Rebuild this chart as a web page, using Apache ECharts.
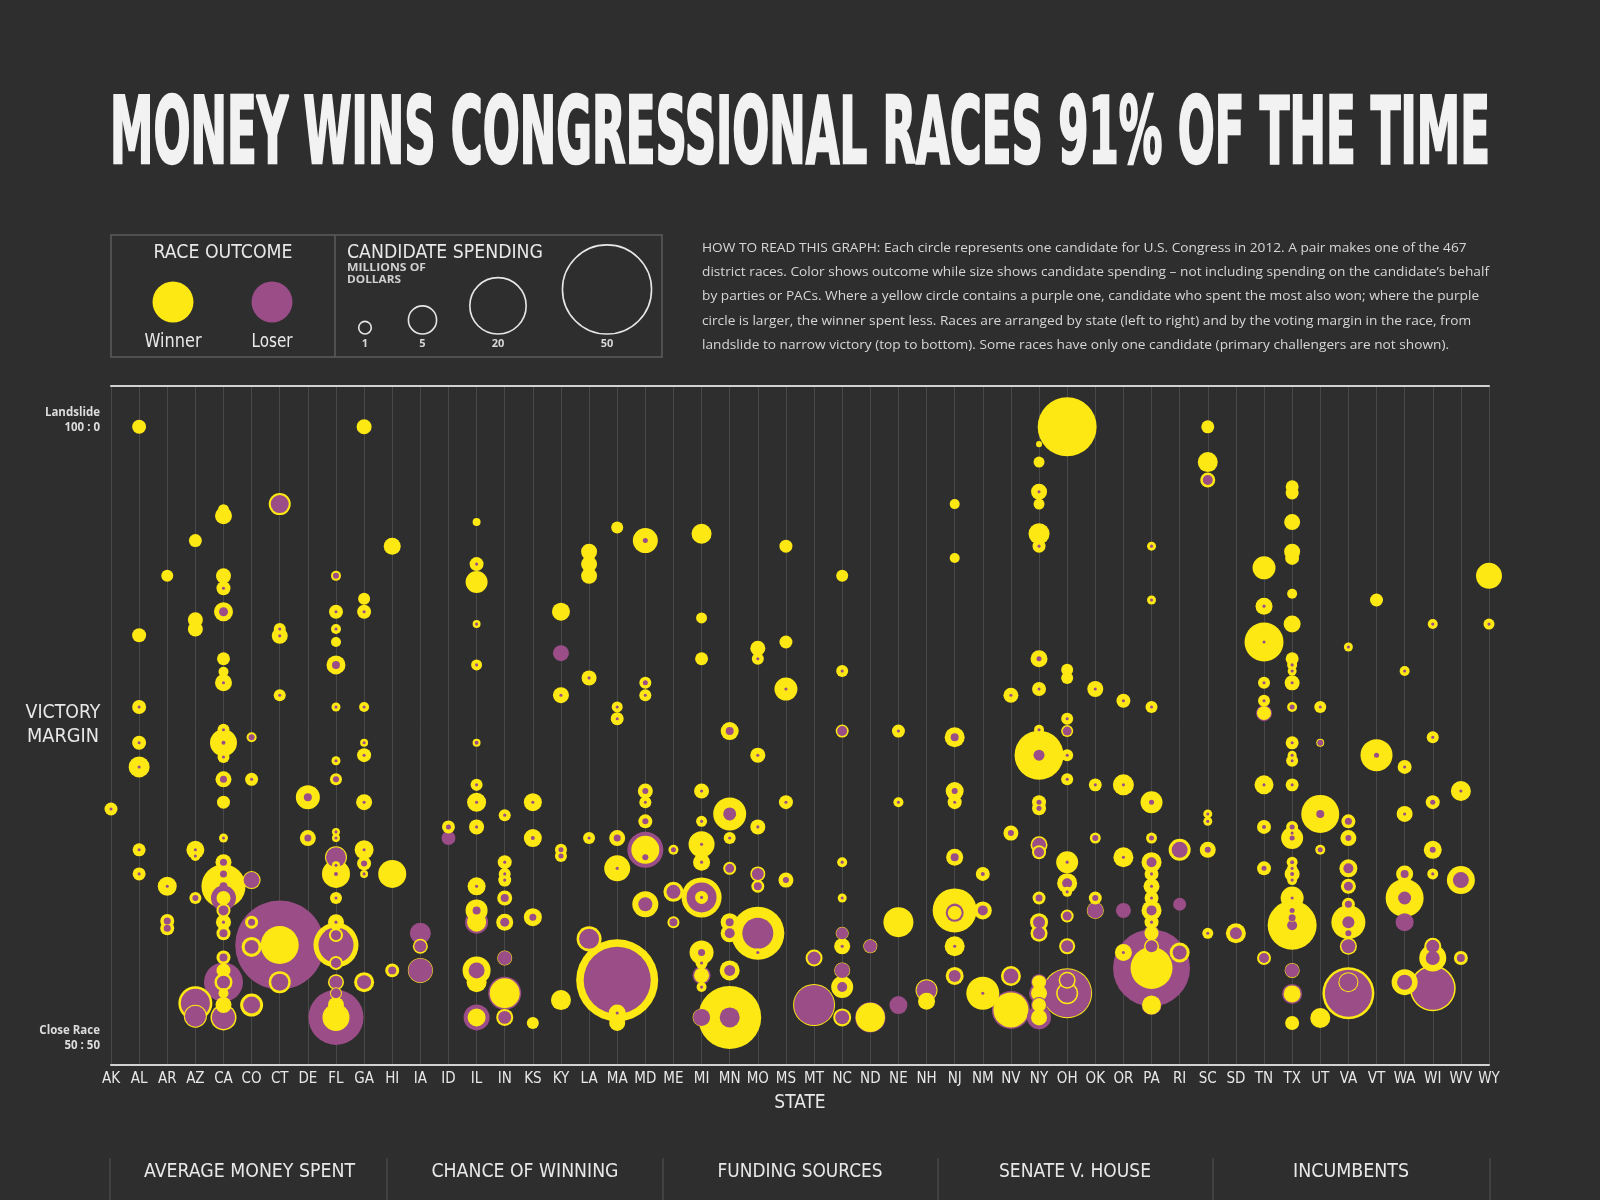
<!DOCTYPE html>
<html><head><meta charset="utf-8">
<script src="https://cdn.jsdelivr.net/npm/echarts@6/dist/echarts.min.js"></script>
<style>html,body{margin:0;padding:0;background:#2e2e2e;}#c{width:1600px;height:1200px;}</style>
</head><body><div id="c"></div>
<script>
// ---------------- DATA ----------------
const states = ['AK','AL','AR','AZ','CA','CO','CT','DE','FL','GA','HI','IA','ID','IL','IN','KS','KY','LA','MA','MD','ME','MI','MN','MO','MS','MT','NC','ND','NE','NH','NJ','NM','NV','NY','OH','OK','OR','PA','RI','SC','SD','TN','TX','UT','VA','VT','WA','WI','WV','WY'];
// each race: [victory margin (pts, 100 = landslide, 0 = 50:50), winner spending ($M), loser spending ($M)]
const racesAK = [[38.2,1.06,0.06]];
const racesAL = [[100,1.23,0],[66.3,1.23,0],[54.7,1.23,0.06],[48.9,1.23,0.06],[45.0,2.78,0.06],[31.6,1.06,0.06],[27.7,1.06,0.06]];
const racesAR = [[75.9,0.91,0],[25.7,2.27,0.06],[20.1,1.23,0.31],[18.9,1.23,0.31]];
const racesAZ = [[81.6,1.06,0],[68.8,1.42,0],[67.3,1.42,0],[31.6,2.04,0.06],[30.6,0.63,0.06],[23.8,0.91,0.23],[6.8,7.28,5.3],[4.7,3.33,2.78]];
const racesCA = [[86.6,0.76,0],[85.6,1.82,0],[75.9,1.42,0],[73.9,1.23,0.06],[70.1,2.27,0.51],[62.5,1.06,0],[60.4,0.63,0],[58.6,1.82,0.06],[51.0,0.91,0.06],[48.9,4.59,0.10],[46.6,0.91,0.06],[43.0,1.61,0.31],[39.3,1.06,0],[33.5,0.51,0.06],[29.6,1.61,0.31],[27.7,1.23,0.31],[25.7,12.2,0.40],[23.8,1.23,3.94],[21.8,1.23,0.63],[19.9,1.42,0.06],[18.1,1.23,0.40],[14.2,1.23,0.40],[12.1,1.23,0],[10.2,1.23,9.58],[10.2,2.04,1.06],[8.4,0.63,0],[6.5,1.61,0],[4.5,4.26,3.33]];
const racesCO = [[49.8,0.63,0.23],[43.0,1.06,0.06],[26.7,2.04,1.61],[19.9,1.06,0.31],[15.9,2.52,1.23],[6.5,3.33,1.82]];
const racesCT = [[87.5,3.05,2.04],[67.3,0.91,0.06],[66.2,1.61,0.06],[56.6,0.91,0.06],[16.2,9.10,49.9],[10.2,3.05,1.82]];
const racesDE = [[40.1,3.63,0.40],[33.5,1.61,0.31]];
const racesFL = [[75.9,0.63,0.23],[70.1,1.23,0.06],[67.3,0.63,0.06],[65.2,0.63,0],[61.5,2.27,0.40],[54.7,0.51,0.06],[46.0,0.51,0.06],[43.0,0.91,0.23],[34.5,0.40,0.06],[33.5,0.40,0.06],[30.4,3.05,2.52],[29.1,0.40,0.06],[27.7,4.94,0.10],[23.8,0.91,0.06],[19.9,1.61,0.06],[17.8,1.23,0.63],[16.2,12.8,7.72],[13.3,1.23,0.63],[10.2,1.61,1.06],[8.4,0.91,0.63],[6.5,1.61,0],[4.5,4.59,19.1]];
const racesGA = [[100,1.42,0],[72.2,0.91,0],[70.1,1.23,0.06],[54.7,0.63,0.06],[48.9,0.40,0.06],[46.9,1.23,0.06],[39.3,1.61,0.06],[31.6,2.27,0.06],[29.4,1.23,0.23],[27.7,0.40,0.06],[10.2,2.52,1.23]];
const racesHI = [[80.7,1.82,0],[27.7,4.94,0],[12.1,1.23,0.40]];
const racesIA = [[18.1,0,2.78],[16.0,1.42,0.91],[12.1,3.94,3.63]];
const racesID = [[35.3,1.06,0.16],[33.5,0,1.23]];
const racesIL = [[84.6,0.40,0],[77.8,1.23,0.06],[74.9,3.05,0],[68.1,0.40,0.06],[61.5,0.76,0.06],[48.9,0.40,0.10],[42.1,0.91,0.06],[39.3,2.27,0.06],[35.3,1.42,0.06],[25.7,2.04,0.06],[21.8,3.05,0.40],[19.9,2.27,3.33],[12.1,4.94,1.61],[10.2,2.52,0],[4.5,2.04,4.26]];
const racesIN = [[37.2,0.91,0.06],[29.6,1.23,0.06],[27.7,0.91,0.06],[26.7,1.06,0.06],[23.8,1.42,0.40],[19.9,1.82,0.51],[14.1,1.42,1.23],[8.4,5.67,6.86],[4.5,1.82,1.06]];
const racesKS = [[39.3,2.04,0.06],[33.5,2.04,0.10],[20.7,2.04,0.31],[3.6,0.91,0]];
const racesKY = [[70.1,2.04,0],[63.4,0,1.61],[56.6,1.61,0.06],[31.6,0.91,0.16],[30.6,0.91,0.16],[7.3,2.52,0]];
const racesLA = [[79.8,1.61,0],[77.8,1.61,0],[75.9,1.61,0],[59.4,1.42,0.06],[33.5,0.91,0.06],[17.2,3.94,2.52]];
const racesMA = [[83.7,0.91,0],[54.7,0.76,0.06],[52.8,1.06,0.06],[33.5,1.61,0.31],[28.6,4.26,0.06],[10.5,42.4,28.3],[5.2,1.82,0.06],[3.6,1.61,0]];
const racesMD = [[81.6,3.94,0.16],[58.6,0.91,0.16],[56.6,0.91,0.06],[41.1,1.42,0.23],[39.3,0.91,0.06],[36.2,1.23,0.23],[31.6,4.94,8.16],[30.4,0.63,0.23],[22.8,4.26,1.23]];
const racesME = [[31.6,0.63,0.16],[24.8,2.52,1.23],[19.9,0.91,0.40]];
const racesMI = [[82.7,2.52,0],[69.1,0.76,0],[62.5,1.06,0],[41.1,1.42,0.06],[36.2,0.76,0.06],[32.5,4.26,0.06],[29.6,1.82,0.06],[23.9,10.1,5.67],[23.9,1.06,0.06],[15.0,3.63,0.31],[13.3,0.91,0.06],[11.3,1.42,2.04],[9.4,0.63,0.06],[4.5,2.04,1.82]];
const racesMN = [[50.8,2.04,0.40],[37.4,6.86,1.06],[33.5,0.91,0.06],[28.6,1.06,0.51],[19.9,2.04,0.40],[18.1,2.04,0.63],[12.1,2.52,0.76],[4.5,25.0,2.52]];
const racesMO = [[64.2,1.42,0],[62.5,0.91,0.06],[46.9,1.42,0.06],[35.3,1.42,0.06],[27.7,1.42,0.91],[25.7,1.06,0.40],[18.1,17.7,6.05],[15.0,0.40,0.06]];
const racesMS = [[80.7,1.06,0],[65.2,1.06,0],[57.6,3.33,0.06],[39.3,1.23,0.06],[26.7,1.42,0.23]];
const racesMT = [[14.1,1.82,1.06],[6.5,11.1,10.1]];
const racesNC = [[75.9,0.91,0],[60.5,0.91,0.06],[50.8,1.06,0.63],[29.6,0.63,0.06],[23.8,0.51,0.06],[18.1,1.06,0.91],[16.0,1.61,0.06],[12.1,1.61,1.42],[9.4,3.05,0.63],[4.5,2.04,1.23]];
const racesND = [[16.0,1.23,1.06],[4.5,5.4,5.8]];
const racesNE = [[50.8,1.06,0.06],[39.3,0.63,0.06],[19.9,5.67,0],[6.5,0,2.04]];
const racesNH = [[8.9,3.05,2.52],[7.1,1.82,0]];
const racesNJ = [[87.5,0.63,0],[78.8,0.63,0],[49.8,2.52,0.40],[41.1,2.04,0.23],[39.3,1.23,0.06],[30.4,1.82,0.40],[21.8,12.2,1.23],[21.4,1.23,2.04],[16.0,2.52,0.06],[11.2,2.04,0.91]];
const racesNM = [[27.7,1.23,0.10],[21.8,2.04,0.63],[8.4,6.86,0.06]];
const racesNV = [[56.6,1.42,0.06],[34.3,1.42,0.23],[11.2,2.52,1.42],[5.7,7.72,9.10]];
const racesNY = [[97.2,0.23,0],[94.3,0.76,0],[89.5,1.61,0.06],[87.5,0.76,0],[82.7,2.78,0],[80.7,1.06,0.06],[62.5,1.82,0.16],[57.6,1.23,0.06],[51.0,0.63,0.06],[46.9,15.1,0.76],[39.3,1.23,0.16],[38.3,1.23,0.16],[32.4,1.82,1.23],[31.2,1.23,0.63],[23.8,1.06,0.31],[19.9,2.04,0.91],[18.1,1.82,0.91],[10.2,1.23,1.61],[8.4,1.61,2.52],[6.5,1.23,1.61],[4.5,1.61,3.63]];
const racesOH = [[100,21.9,0],[60.7,0.91,0],[59.4,0.91,0],[52.8,0.91,0.06],[50.8,0.91,0.51],[46.9,0.91,0.06],[43.0,0.91,0.06],[29.6,3.05,0.06],[26.2,2.52,0.63],[24.8,0.63,0.06],[20.9,1.06,0.51],[16.0,1.61,0.91],[8.4,15.7,14.5],[10.5,1.82,1.23],[8.4,3.05,2.27]];
const racesOK = [[57.6,1.61,0.06],[42.1,1.06,0.06],[33.5,0.76,0.23],[23.8,1.06,0.23],[21.8,1.82,1.61]];
const racesOR = [[55.7,1.23,0.06],[42.1,2.78,0.06],[30.4,2.52,0.06],[21.8,0,1.42],[15.0,1.82,0.06]];
const racesPA = [[80.7,0.51,0.06],[72.0,0.51,0.06],[54.7,0.91,0.06],[39.3,3.05,0.16],[33.5,0.76,0.16],[29.6,2.52,0.63],[27.7,1.23,0.06],[25.7,1.61,0.06],[23.8,1.23,0.06],[21.8,2.52,0.63],[19.9,1.23,0.06],[18.1,1.23,1.61],[16.0,1.42,0.91],[12.5,11.1,37.3],[6.5,2.27,2.52]];
const racesRI = [[31.6,3.05,1.61],[22.8,0,1.06],[15.0,2.52,1.23]];
const racesSC = [[100,1.06,0],[94.3,2.52,0],[91.4,1.42,0.63],[37.4,0.51,0.06],[36.2,0.51,0.06],[31.6,1.61,0.23],[18.1,0.76,0.06]];
const racesSD = [[18.1,2.52,0.91]];
const racesTN = [[77.2,3.33,0],[71.0,1.82,0.06],[65.2,9.58,0.06],[58.6,0.91,0.06],[55.7,0.91,0.06],[53.7,1.23,1.61],[42.1,2.27,0.06],[35.3,1.23,0.10],[28.6,1.23,0.16],[14.1,1.23,0.63]];
const racesTX = [[90.3,1.06,0],[89.3,1.06,0],[84.6,1.61,0],[79.8,1.61,0],[78.8,1.23,0],[73.0,0.63,0],[68.1,1.82,0],[62.5,1.06,0],[61.5,0.63,0.06],[60.5,0.51,0.06],[58.6,1.42,0.06],[54.7,0.63,0.16],[48.9,1.06,0.06],[46.9,0.51,0.06],[46.0,0.91,0.06],[42.1,1.06,0.06],[35.3,0.91,0.16],[34.3,0.40,0.06],[33.5,3.05,0.16],[29.6,0.76,0.10],[28.6,0.63,0.06],[27.7,1.42,0.10],[26.7,0.63,0.06],[23.8,3.33,0.06],[21.8,0.63,0.16],[20.6,0.40,0.31],[19.4,15.1,0.63],[12.1,1.42,1.23],[8.3,1.82,2.52],[3.6,1.23,0]];
const racesUT = [[54.7,0.91,0.06],[48.9,0.40,0.23],[37.4,9.10,0.40],[31.6,0.63,0.16],[4.4,2.52,0]];
const racesVA = [[64.4,0.51,0.06],[36.2,1.23,0.31],[33.5,1.61,0.23],[28.6,2.04,0.63],[25.7,1.42,0.51],[22.8,1.06,0.31],[19.9,7.28,0.91],[18.1,0.40,0.23],[16.0,1.82,1.23],[8.4,17.0,13.9],[10.2,2.52,2.04]];
const racesVT = [[72.0,1.06,0],[46.9,6.45,0.16]];
const racesWA = [[60.5,0.63,0.06],[45.0,1.23,0.06],[37.4,1.61,0.06],[27.7,1.82,0.40],[23.8,9.10,1.06],[19.9,0,2.04],[10.2,4.26,1.42]];
const racesWI = [[68.1,0.63,0.06],[49.8,0.91,0.06],[39.3,1.23,0.16],[31.6,2.04,0.23],[27.7,0.76,0.06],[16.0,1.82,1.06],[14.1,4.59,1.23],[9.2,13.3,11.6]];
const racesWV = [[41.1,2.52,0.06],[26.7,4.94,1.61],[14.1,1.23,0.40]];
const racesWY = [[75.9,4.26,0],[68.1,0.76,0.06]];

const legendSpend = [1, 5, 20, 50];
const marginEnds = [{value: 100, lines: ['Landslide', '100 : 0']}, {value: 0, lines: ['Close Race', '50 : 50']}];
const tabs = ['AVERAGE MONEY SPENT', 'CHANCE OF WINNING', 'FUNDING SOURCES', 'SENATE V. HOUSE', 'INCUMBENTS'];
const TITLE = 'MONEY WINS CONGRESSIONAL RACES 91% OF THE TIME';
const howToRead = [
  'HOW TO READ THIS GRAPH: Each circle represents one candidate for U.S. Congress in 2012. A pair makes one of the 467',
  'district races. Color shows outcome while size shows candidate spending \u2013 not including spending on the candidate\u2019s behalf',
  'by parties or PACs. Where a yellow circle contains a purple one, candidate who spent the most also won; where the purple',
  'circle is larger, the winner spent less. Races are arranged by state (left to right) and by the voting margin in the race, from',
  'landslide to narrow victory (top to bottom). Some races have only one candidate (primary challengers are not shown).'
];

// ---------------- BUILD ----------------
const raceTable = {AK:racesAK,AL:racesAL,AR:racesAR,AZ:racesAZ,CA:racesCA,CO:racesCO,CT:racesCT,DE:racesDE,FL:racesFL,GA:racesGA,HI:racesHI,IA:racesIA,ID:racesID,IL:racesIL,IN:racesIN,KS:racesKS,KY:racesKY,LA:racesLA,MA:racesMA,MD:racesMD,ME:racesME,MI:racesMI,MN:racesMN,MO:racesMO,MS:racesMS,MT:racesMT,NC:racesNC,ND:racesND,NE:racesNE,NH:racesNH,NJ:racesNJ,NM:racesNM,NV:racesNV,NY:racesNY,OH:racesOH,OK:racesOK,OR:racesOR,PA:racesPA,RI:racesRI,SC:racesSC,SD:racesSD,TN:racesTN,TX:racesTX,UT:racesUT,VA:racesVA,VT:racesVT,WA:racesWA,WI:racesWI,WV:racesWV,WY:racesWY};

const BG = '#2e2e2e', YELLOW = '#fde814', PURPLE = '#9a4d86', TXT = '#e8e8e8';
const COND = "'Liberation Sans Narrow','DejaVu Sans Condensed',Roboto,sans-serif";
const BODY = "'Open Sans','Noto Sans',sans-serif";
const SIZE_K = 12.6;
const diam = v => SIZE_K * Math.sqrt(v);

const points = [];
states.forEach(st => {
  raceTable[st].forEach(r => {
    if (r[1] > 0) points.push({st, m: r[0], v: r[1], win: true});
    if (r[2] > 0) points.push({st, m: r[0], v: r[2], win: false});
  });
});
points.sort((a, b) => b.v - a.v);
const seriesData = points.map(p => ({value: [p.st, p.m, p.v], itemStyle: {color: p.win ? YELLOW : PURPLE}}));

const chart = echarts.init(document.getElementById('c'), null, {renderer: 'canvas', width: 1600, height: 1200});
chart.setOption({
  backgroundColor: BG,
  animation: false,
  grid: {left: 111, right: 111, top: 386, bottom: 135},
  xAxis: [{
    type: 'category', data: states, boundaryGap: false,
    axisLine: {onZero: false, lineStyle: {color: '#d2d2d2', width: 2}},
    axisTick: {show: false},
    axisLabel: {interval: 0, color: TXT, fontFamily: COND, fontSize: 15, margin: 7},
    splitLine: {show: true, interval: 0, lineStyle: {color: '#484848', width: 1}},
    name: 'STATE', nameLocation: 'middle', nameGap: 29,
    nameTextStyle: {color: TXT, fontFamily: COND, fontSize: 19}
  }, {
    type: 'category', data: states, boundaryGap: false, position: 'top',
    axisLine: {onZero: false, lineStyle: {color: '#d2d2d2', width: 2}},
    axisTick: {show: false}, axisLabel: {show: false}, splitLine: {show: false}
  }],
  yAxis: {type: 'value', min: -3.2, max: 106.6, show: false},
  series: [{
    type: 'scatter', data: seriesData, silent: true,
    symbolSize: v => diam(v[2]),
    itemStyle: {opacity: 1}
  }]
});

// ---------------- TEXT / LEGEND GRAPHICS ----------------
const mctx = document.createElement('canvas').getContext('2d');
function fit(text, x, y, size, family, weight, targetW, align, color, strokeW) {
  mctx.font = weight + ' ' + size + 'px ' + family;
  const w = mctx.measureText(text).width || 1;
  const sx = targetW ? targetW / w : 1;
  const style = {text, fontSize: size, fontFamily: family, fontWeight: weight, fill: color,
      textAlign: align, textVerticalAlign: 'middle'};
  if (strokeW) { style.stroke = color; style.lineWidth = strokeW; }
  return {type: 'text', x, y, scaleX: sx, silent: true, style};
}
function txt(text, x, y, size, family, weight, align, color) {
  return {type: 'text', x, y, silent: true,
    style: {text, fontSize: size, fontFamily: family, fontWeight: weight, fill: color,
      textAlign: align, textVerticalAlign: 'middle'}};
}

const g = [];
g.push(fit(TITLE, 800, 139, 92, COND, 'bold', 1380, 'center', '#f2f2f2', 2.5));

// legend box
g.push({type: 'rect', silent: true, shape: {x: 111, y: 235, width: 551, height: 122}, style: {fill: 'none', stroke: '#5c5c5c', lineWidth: 1.5}});
g.push({type: 'line', silent: true, shape: {x1: 335, y1: 235, x2: 335, y2: 357}, style: {stroke: '#5c5c5c', lineWidth: 1.5}});
g.push(fit('RACE OUTCOME', 223, 253, 20, COND, 'normal', 139, 'center', TXT));
g.push({type: 'circle', silent: true, shape: {cx: 173, cy: 302, r: 20.5}, style: {fill: YELLOW}});
g.push({type: 'circle', silent: true, shape: {cx: 272, cy: 302, r: 20.5}, style: {fill: PURPLE}});
g.push(fit('Winner', 173, 342, 19, COND, 'normal', 57, 'center', TXT));
g.push(fit('Loser', 272, 342, 19, COND, 'normal', 41, 'center', TXT));
g.push(fit('CANDIDATE SPENDING', 347, 253, 20, COND, 'normal', 196, 'left', TXT));
g.push(fit('MILLIONS OF', 347, 268, 11, BODY, 'bold', 79, 'left', '#d0d0d0'));
g.push(fit('DOLLARS', 347, 280, 11, BODY, 'bold', 54, 'left', '#d0d0d0'));
const legendX = [365, 422.5, 498, 607];
legendSpend.forEach((v, i) => {
  const d = diam(v);
  g.push({type: 'circle', silent: true, shape: {cx: legendX[i], cy: 334 - d / 2, r: d / 2}, style: {fill: 'none', stroke: '#e6e6e6', lineWidth: 1.6}});
  g.push(txt(String(v), legendX[i], 344, 11, BODY, 'bold', 'center', '#d8d8d8'));
});

// description
mctx.font = 'normal 13.5px ' + BODY;
const descScale = 787 / (mctx.measureText(howToRead[1]).width || 787);
howToRead.forEach((line, i) => {
  g.push({type: 'text', x: 702, y: 248 + i * 24.3, scaleX: descScale, silent: true,
    style: {text: line, fontSize: 13.5, fontFamily: BODY, fill: '#d6d6d6', textAlign: 'left', textVerticalAlign: 'middle'}});
});

// y-axis title
g.push(fit('VICTORY', 63, 713, 20, COND, 'normal', 75, 'center', TXT));
g.push(fit('MARGIN', 63, 737, 20, COND, 'normal', 72, 'center', TXT));

// end labels tied to the y scale
marginEnds.forEach(e => {
  const py = chart.convertToPixel({yAxisIndex: 0}, e.value);
  g.push(txt(e.lines[0], 100, py - 14, 11.5, BODY, 'bold', 'right', '#dcdcdc'));
  g.push(txt(e.lines[1], 100, py + 1, 11.5, BODY, 'bold', 'right', '#dcdcdc'));
});

// bottom tabs
const tabEdges = [110, 387, 663, 938, 1213, 1490];
const tabW = [211, 187, 165, 152, 116];
tabEdges.forEach(x => g.push({type: 'line', silent: true, shape: {x1: x, y1: 1158, x2: x, y2: 1200}, style: {stroke: '#555', lineWidth: 1}}));
tabs.forEach((t, i) => {
  const cx = [249.5, 525, 800, 1075, 1351][i];
  g.push(fit(t, cx, 1172, 20, COND, 'normal', tabW[i], 'center', TXT));
});

chart.setOption({graphic: {elements: g}});
</script>
</body></html>
